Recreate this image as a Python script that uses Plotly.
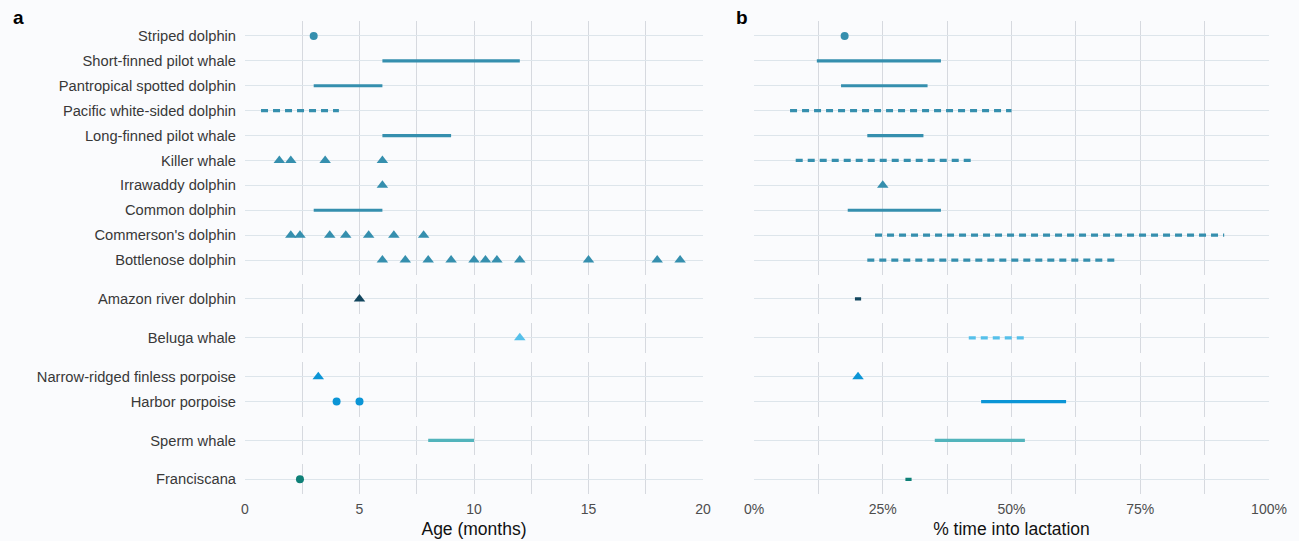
import plotly.graph_objects as go

# ---------------- data ----------------
facets = [
    ["Striped dolphin", "Short-finned pilot whale", "Pantropical spotted dolphin",
     "Pacific white-sided dolphin", "Long-finned pilot whale", "Killer whale",
     "Irrawaddy dolphin", "Common dolphin", "Commerson's dolphin", "Bottlenose dolphin"],
    ["Amazon river dolphin"],
    ["Beluga whale"],
    ["Narrow-ridged finless porpoise", "Harbor porpoise"],
    ["Sperm whale"],
    ["Franciscana"],
]
facet_colors = ["#358fae", "#12465e", "#55c0ea", "#0b95d6", "#52b4bc", "#0e8077"]

# Panel a: age (months)
age_points = {
    "Striped dolphin": [3],
    "Killer whale": [1.5, 2, 3.5, 6],
    "Irrawaddy dolphin": [6],
    "Commerson's dolphin": [2, 2.4, 3.7, 4.4, 5.4, 6.5, 7.8],
    "Bottlenose dolphin": [6, 7, 8, 9, 10, 10.5, 11, 12, 15, 18, 19],
    "Amazon river dolphin": [5],
    "Beluga whale": [12],
    "Narrow-ridged finless porpoise": [3.2],
    "Harbor porpoise": [4, 5],
    "Franciscana": [2.4],
}
age_ranges = {
    "Short-finned pilot whale": [6, 12],
    "Pantropical spotted dolphin": [3, 6],
    "Pacific white-sided dolphin": [0.7, 4.1],
    "Long-finned pilot whale": [6, 9],
    "Common dolphin": [3, 6],
    "Sperm whale": [8, 10],
}
age_dashed = ["Pacific white-sided dolphin"]

# Panel b: % time into lactation
lact_points = {
    "Striped dolphin": [17.6],
    "Irrawaddy dolphin": [25],
    "Narrow-ridged finless porpoise": [20.2],
}
lact_ranges = {
    "Short-finned pilot whale": [12.2, 36.3],
    "Pantropical spotted dolphin": [16.9, 33.7],
    "Pacific white-sided dolphin": [7.0, 50.0],
    "Long-finned pilot whale": [22.0, 32.9],
    "Killer whale": [8.1, 42.8],
    "Common dolphin": [18.2, 36.3],
    "Commerson's dolphin": [23.5, 91.3],
    "Bottlenose dolphin": [22.0, 70.1],
    "Amazon river dolphin": [19.6, 20.8],
    "Beluga whale": [41.7, 52.6],
    "Harbor porpoise": [44.1, 60.6],
    "Sperm whale": [35.1, 52.6],
    "Franciscana": [29.4, 30.6],
}
lact_dashed = ["Pacific white-sided dolphin", "Killer whale", "Commerson's dolphin",
               "Bottlenose dolphin", "Beluga whale"]

circle_species = ["Striped dolphin", "Harbor porpoise", "Franciscana"]

age_ticks = [0, 5, 10, 15, 20]
age_minor = [2.5, 7.5, 12.5, 17.5]
lact_ticks = [0, 25, 50, 75, 100]
lact_ticktext = ["0%", "25%", "50%", "75%", "100%"]
lact_minor = [12.5, 37.5, 62.5, 87.5]

# ---------------- layout geometry ----------------
W, H = 1299, 541
unit = 24.9
gap = 9
top0 = 21
xa_dom = [245 / W, 703 / W]
xb_dom = [754 / W, 1269 / W]

FONT = "Liberation Sans, Arial, Helvetica, sans-serif"
BG = "#fafbfd"
HGRID = "#dde5eb"
VGRID = "#d6d9df"

fig = go.Figure()
layout = {}

top = top0
nf = len(facets)
for i, sp_list in enumerate(facets):
    n = len(sp_list)
    h = (n - 1 + 1.2) * unit
    bottom = top + h
    ydom = [1 - bottom / H, 1 - top / H]
    top = bottom + gap
    color = facet_colors[i]
    last = (i == nf - 1)

    for p in range(2):
        k = 2 * i + 1 + p
        xs = "x" if k == 1 else f"x{k}"
        ys = "y" if k == 1 else f"y{k}"
        xkey = "xaxis" if k == 1 else f"xaxis{k}"
        ykey = "yaxis" if k == 1 else f"yaxis{k}"

        points = age_points if p == 0 else lact_points
        ranges = age_ranges if p == 0 else lact_ranges
        dashed = age_dashed if p == 0 else lact_dashed

        for sp in sp_list:
            if sp in ranges:
                lo, hi = ranges[sp]
                fig.add_trace(go.Scatter(
                    x=[lo, hi], y=[sp, sp], mode="lines", xaxis=xs, yaxis=ys,
                    line=dict(color=color, width=3.2,
                              dash="7px,5px" if sp in dashed else "solid"),
                    showlegend=False, hoverinfo="x+y"))
            if sp in points:
                vals = points[sp]
                circ = sp in circle_species
                fig.add_trace(go.Scatter(
                    x=vals, y=[sp] * len(vals), mode="markers", xaxis=xs, yaxis=ys,
                    marker=dict(color=color, size=8 if circ else 10,
                                symbol="circle" if circ else "triangle-up",
                                line=dict(width=0)),
                    showlegend=False, hoverinfo="x+y"))

        if p == 0:
            xax = dict(range=[0, 20], tickvals=age_ticks,
                       minor=dict(tickvals=age_minor, showgrid=True, gridcolor=VGRID, gridwidth=1))
            if last:
                xax["title"] = dict(text="Age (months)", font=dict(size=17.5, color="#111111"), standoff=6)
        else:
            xax = dict(range=[0, 100], tickvals=lact_ticks, ticktext=lact_ticktext,
                       minor=dict(tickvals=lact_minor, showgrid=True, gridcolor=VGRID, gridwidth=1))
            if last:
                xax["title"] = dict(text="% time into lactation", font=dict(size=17.5, color="#111111"), standoff=6)
        xax.update(domain=xa_dom if p == 0 else xb_dom, anchor=ys,
                   showgrid=True, gridcolor=VGRID, gridwidth=1, zeroline=False,
                   showline=False, ticks="", showticklabels=last, automargin=False,
                   ticklabelstandoff=5,
                   tickfont=dict(size=14, color="#4d4d4d"), fixedrange=True)
        layout[xkey] = xax

        layout[ykey] = dict(
            domain=ydom, anchor=xs, type="category", categoryarray=sp_list,
            categoryorder="array", range=[n - 0.4, -0.6], automargin=False,
            showgrid=True, gridcolor=HGRID, gridwidth=1, zeroline=False, showline=False,
            ticks="", showticklabels=(p == 0), ticklabelstandoff=8,
            tickfont=dict(size=14.7, color="#383838"), fixedrange=True)

fig.update_layout(**layout)
fig.update_layout(
    width=W, height=H, autosize=False,
    margin=dict(l=0, r=0, t=0, b=0, pad=0, autoexpand=False),
    paper_bgcolor=BG, plot_bgcolor=BG,
    font=dict(family=FONT, size=14, color="#3a3a3a"),
    showlegend=False,
    annotations=[
        dict(text="<b>a</b>", x=11 / W, y=1 - 5 / H, xref="paper", yref="paper",
             showarrow=False, font=dict(size=19, color="#000000"), xanchor="left", yanchor="top"),
        dict(text="<b>b</b>", x=734 / W, y=1 - 5 / H, xref="paper", yref="paper",
             showarrow=False, font=dict(size=19, color="#000000"), xanchor="left", yanchor="top"),
    ],
)

fig.write_html(
    "out.html",
    config={"responsive": False, "displayModeBar": False},
    post_script="document.body.style.margin='0';document.body.style.padding='0';"
                "document.documentElement.style.overflow='hidden';document.body.style.overflow='hidden';",
)
